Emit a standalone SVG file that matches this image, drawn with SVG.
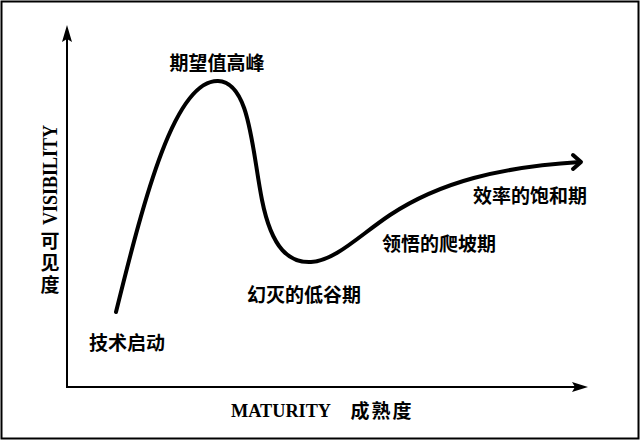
<svg xmlns="http://www.w3.org/2000/svg" width="640" height="440" viewBox="0 0 640 440">
<style>
.cjk{font-family:"Noto Sans CJK SC","Noto Sans",sans-serif;font-weight:bold;font-size:19px;fill:#000;text-anchor:middle}
.lat{font-family:"Liberation Serif","Times New Roman",serif;font-weight:bold;fill:#000}
.axis{stroke:#000;stroke-width:2;fill:none}
.curve{stroke:#000;stroke-width:4;fill:none;stroke-linecap:round;stroke-linejoin:round}
</style>
<rect x="0" y="0" width="640" height="440" fill="#fff"/>
<rect x="1.5" y="1.5" width="637" height="437" fill="none" stroke="#000" stroke-width="2"/>
<g id="axes">
<line class="axis" x1="67" y1="38" x2="67" y2="388"/>
<polygon points="67,25 72,42 67,39 62,42" fill="#000"/>
<line class="axis" x1="66" y1="387" x2="576" y2="387"/>
<polygon points="588,387 572,382 575,387 572,392" fill="#000"/>
</g>
<g id="y-label">
<text class="lat" font-size="20.5" transform="translate(57,225) rotate(-90)" textLength="100" lengthAdjust="spacingAndGlyphs">VISIBILITY</text>
<text x="50" y="231" font-family="Noto Sans CJK SC, sans-serif" font-weight="bold" font-size="19" writing-mode="vertical-rl" letter-spacing="3" fill="#000">可见度</text>
</g>
<g id="x-label">
<text class="lat" x="231" y="417" font-size="18" textLength="100" lengthAdjust="spacingAndGlyphs">MATURITY</text>
<text class="cjk" x="382" y="418" font-size="19" letter-spacing="2">成熟度</text>
</g>
<g id="connectors">
<path class="curve" d="M116,312 C145,195 175,80 218,81 C250,82 252,150 262,200 C272,250 290,263 311,262 C335,261 360,235 390,215 C440,182 500,167 580,162"/>
<polyline class="curve" points="573,155 581,162 573,169"/>
</g>
<g id="n-start"><text class="cjk" x="127" y="350" font-size="20">技术启动</text></g>
<g id="n-peak"><text class="cjk" x="217" y="70" font-size="20">期望值高峰</text></g>
<g id="n-trough"><text class="cjk" x="304" y="302" font-size="19.5">幻灭的低谷期</text></g>
<g id="n-slope"><text class="cjk" x="439" y="251" font-size="19.5">领悟的爬坡期</text></g>
<g id="n-plateau"><text class="cjk" x="530" y="203" font-size="19.5">效率的饱和期</text></g>
</svg>
